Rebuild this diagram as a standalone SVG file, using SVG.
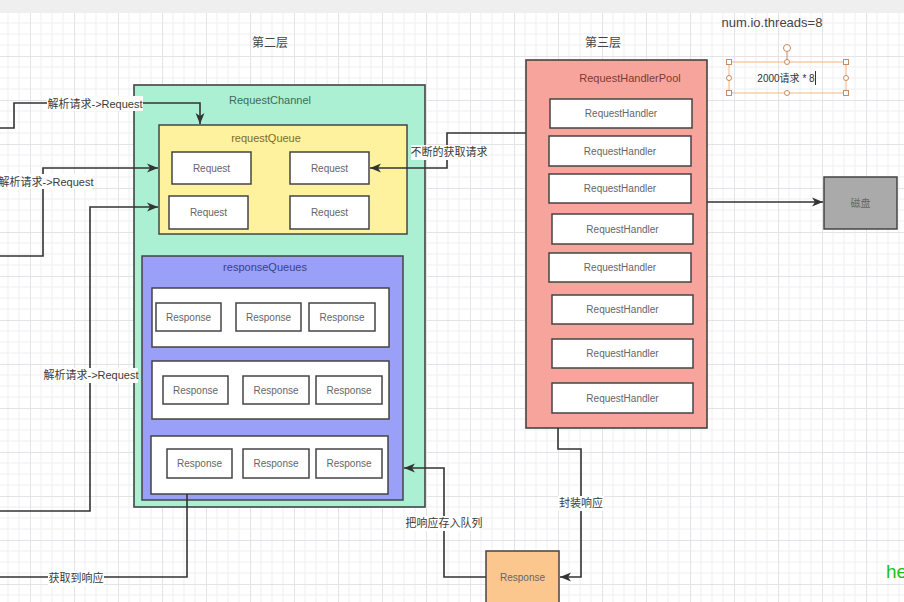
<svg xmlns="http://www.w3.org/2000/svg" width="904" height="602" viewBox="0 0 904 602">
  <defs>
    <pattern id="grid" x="30" y="12" width="44" height="44" patternUnits="userSpaceOnUse">
      <path d="M11 0V44M22 0V44M33 0V44M0 11H44M0 22H44M0 33H44" stroke="#efeff2" stroke-width="1" fill="none"/>
      <path d="M0.5 0V44M0 0.5H44" stroke="#e3e3e8" stroke-width="1" fill="none"/>
    </pattern>
    <marker id="arrow" markerUnits="userSpaceOnUse" markerWidth="12" markerHeight="10" refX="11" refY="5" orient="auto">
      <path d="M0,0.5 L11,5 L0,9.5 L3,5 Z" fill="#333"/>
    </marker>
    <style>
      text { font-family: "Liberation Sans", "Noto Sans CJK SC", sans-serif; }
      .conn { fill: none; stroke: #333; stroke-width: 1.6; }
      .lbl { font-size: 11px; fill: #3a3a3a; text-anchor: middle; dominant-baseline: central; }
      .lblbg { fill: #ffffff; }
      .box { fill: #ffffff; stroke: #444; stroke-width: 1.5; }
      .btxt { font-size: 10px; fill: #666; text-anchor: middle; dominant-baseline: central; }
      .title { font-size: 11px; text-anchor: middle; dominant-baseline: central; }
      .layer { font-size: 12px; fill: #444; text-anchor: middle; dominant-baseline: central; }
      .sel { fill: none; stroke: #f2b77a; stroke-width: 1; }
      .hsq { fill: #fff; stroke: #c58b62; stroke-width: 1; }
      .hci { fill: #fff; stroke: #c58b62; stroke-width: 1; }
    </style>
  </defs>

  <rect x="0" y="0" width="904" height="602" fill="#ffffff"/>
  <rect x="0" y="13" width="904" height="589" fill="url(#grid)"/>
  <rect x="0" y="0" width="904" height="13" fill="#efefef"/>

  <!-- layer labels -->
  <text class="layer" x="270" y="43">第二层</text>
  <text class="layer" x="603" y="43">第三层</text>
  <text x="772" y="22" font-size="13" fill="#444" text-anchor="middle" dominant-baseline="central">num.io.threads=8</text>

  <!-- selected text box -->
  <g id="note-2000">
    <line x1="787" y1="52" x2="787" y2="62" stroke="#c58b62" stroke-width="1"/>
    <circle cx="787" cy="48" r="3.5" class="hci"/>
    <rect x="729" y="62" width="117" height="31" class="sel"/>
    <text x="786" y="78" font-size="10" fill="#333" text-anchor="middle" dominant-baseline="central">2000请求 * 8</text>
    <line x1="815.5" y1="71" x2="815.5" y2="85" stroke="#333" stroke-width="1"/>
    <rect x="726.5" y="59.5" width="5" height="5" class="hsq"/>
    <rect x="843.5" y="59.5" width="5" height="5" class="hsq"/>
    <rect x="726.5" y="90.5" width="5" height="5" class="hsq"/>
    <rect x="843.5" y="90.5" width="5" height="5" class="hsq"/>
    <circle cx="787" cy="62" r="2.5" class="hci"/>
    <circle cx="787" cy="93" r="2.5" class="hci"/>
    <circle cx="729" cy="78" r="2.5" class="hci"/>
    <circle cx="846" cy="78" r="2.5" class="hci"/>
  </g>

  <!-- RequestChannel -->
  <g id="request-channel">
    <rect x="134" y="85" width="291" height="422" fill="#abf0d2" stroke="#444" stroke-width="1.6"/>
    <text class="title" x="270" y="100" fill="#3d6a5a">RequestChannel</text>
  </g>

  <!-- requestQueue -->
  <g id="request-queue">
    <rect x="159" y="125" width="248" height="109" fill="#fff29e" stroke="#444" stroke-width="1.5"/>
    <text class="title" x="266" y="138" fill="#7d6b2e">requestQueue</text>
  </g>
  <g id="request-1"><rect class="box" x="172" y="152" width="79" height="32"/><text class="btxt" x="211.5" y="168">Request</text></g>
  <g id="request-2"><rect class="box" x="290" y="152" width="79" height="32"/><text class="btxt" x="329.5" y="168">Request</text></g>
  <g id="request-3"><rect class="box" x="169" y="196" width="79" height="33"/><text class="btxt" x="208.5" y="212.5">Request</text></g>
  <g id="request-4"><rect class="box" x="290" y="196" width="79" height="33"/><text class="btxt" x="329.5" y="212.5">Request</text></g>

  <!-- responseQueues -->
  <g id="response-queues">
    <rect x="142" y="256" width="261" height="244" fill="#9a9ff8" stroke="#444" stroke-width="1.5"/>
    <text class="title" x="265" y="267" fill="#3b3f84">responseQueues</text>
  </g>
  <g id="response-row-1"><rect class="box" x="152" y="288" width="237" height="59"/></g>
  <g id="response-row-2"><rect class="box" x="152" y="361" width="237" height="58"/></g>
  <g id="response-row-3"><rect class="box" x="151" y="436" width="237" height="58"/></g>

  <g id="response-1-1"><rect class="box" x="156" y="303" width="65" height="28"/><text class="btxt" x="188.5" y="317">Response</text></g>
  <g id="response-1-2"><rect class="box" x="236" y="303" width="65" height="28"/><text class="btxt" x="268.5" y="317">Response</text></g>
  <g id="response-1-3"><rect class="box" x="309" y="303" width="66" height="28"/><text class="btxt" x="342" y="317">Response</text></g>

  <g id="response-2-1"><rect class="box" x="163" y="376" width="65" height="28"/><text class="btxt" x="195.5" y="390">Response</text></g>
  <g id="response-2-2"><rect class="box" x="243" y="376" width="66" height="28"/><text class="btxt" x="276" y="390">Response</text></g>
  <g id="response-2-3"><rect class="box" x="316" y="376" width="66" height="28"/><text class="btxt" x="349" y="390">Response</text></g>

  <g id="response-3-1"><rect class="box" x="167" y="449" width="65" height="29"/><text class="btxt" x="199.5" y="463.5">Response</text></g>
  <g id="response-3-2"><rect class="box" x="243" y="449" width="66" height="29"/><text class="btxt" x="276" y="463.5">Response</text></g>
  <g id="response-3-3"><rect class="box" x="316" y="449" width="66" height="29"/><text class="btxt" x="349" y="463.5">Response</text></g>

  <!-- RequestHandlerPool -->
  <g id="request-handler-pool">
    <rect x="526" y="60" width="181" height="368" fill="#f7a59c" stroke="#444" stroke-width="1.6"/>
    <text class="title" x="630" y="78" fill="#7e3a33">RequestHandlerPool</text>
  </g>
  <g id="handler-1"><rect class="box" x="550" y="99" width="142" height="29"/><text class="btxt" x="621" y="113.5">RequestHandler</text></g>
  <g id="handler-2"><rect class="box" x="549" y="136" width="142" height="30"/><text class="btxt" x="620" y="151">RequestHandler</text></g>
  <g id="handler-3"><rect class="box" x="549" y="174" width="142" height="29"/><text class="btxt" x="620" y="188.5">RequestHandler</text></g>
  <g id="handler-4"><rect class="box" x="552" y="214" width="141" height="30"/><text class="btxt" x="622.5" y="229">RequestHandler</text></g>
  <g id="handler-5"><rect class="box" x="549" y="253" width="142" height="29"/><text class="btxt" x="620" y="267.5">RequestHandler</text></g>
  <g id="handler-6"><rect class="box" x="552" y="295" width="141" height="29"/><text class="btxt" x="622.5" y="309.5">RequestHandler</text></g>
  <g id="handler-7"><rect class="box" x="552" y="339" width="141" height="29"/><text class="btxt" x="622.5" y="353.5">RequestHandler</text></g>
  <g id="handler-8"><rect class="box" x="552" y="383" width="141" height="30"/><text class="btxt" x="622.5" y="398">RequestHandler</text></g>

  <!-- disk -->
  <g id="disk">
    <rect x="824" y="177" width="73" height="52" fill="#aaaaaa" stroke="#444" stroke-width="1.5"/>
    <text class="btxt" x="860.5" y="203" fill="#555">磁盘</text>
  </g>

  <!-- Response -->
  <g id="response-out">
    <rect x="486" y="551" width="73" height="56" fill="#fcc78f" stroke="#444" stroke-width="1.5"/>
    <text class="btxt" x="522.5" y="577" fill="#555">Response</text>
  </g>

  <!-- connectors -->
  <g id="connectors">
    <path class="conn" d="M0,128 H14 V103 H200 V124" marker-end="url(#arrow)"/>
    <path class="conn" d="M0,256 H43 V168 H158" marker-end="url(#arrow)"/>
    <path class="conn" d="M0,511 H90 V207 H158" marker-end="url(#arrow)"/>
    <path class="conn" d="M187,494 V577 H0"/>
    <path class="conn" d="M526,133 H447 V168 H370" marker-end="url(#arrow)"/>
    <path class="conn" d="M707,202 H823" marker-end="url(#arrow)"/>
    <path class="conn" d="M558,428 V449 H581 V577 H560" marker-end="url(#arrow)"/>
    <path class="conn" d="M486,577 H444 V468 H404" marker-end="url(#arrow)"/>

    <rect class="lblbg" x="47" y="96" width="96" height="15"/>
    <text class="lbl" x="95" y="104">解析请求->Request</text>
    <rect class="lblbg" x="0" y="174" width="92" height="15"/>
    <text class="lbl" x="46" y="182">解析请求->Request</text>
    <rect class="lblbg" x="44" y="368" width="94" height="15"/>
    <text class="lbl" x="91" y="375">解析请求->Request</text>
    <rect class="lblbg" x="48" y="571" width="56" height="15"/>
    <text class="lbl" x="76" y="578">获取到响应</text>
    <rect class="lblbg" x="411" y="145" width="76" height="15"/>
    <text class="lbl" x="449" y="152">不断的获取请求</text>
    <rect class="lblbg" x="558" y="496" width="46" height="15"/>
    <text class="lbl" x="581" y="503">封装响应</text>
    <rect class="lblbg" x="408" y="516" width="72" height="15"/>
    <text class="lbl" x="444" y="523">把响应存入队列</text>
  </g>

  <text x="886" y="578" font-size="19" fill="#1fbf1f" font-family="Liberation Sans, sans-serif">he</text>
</svg>
